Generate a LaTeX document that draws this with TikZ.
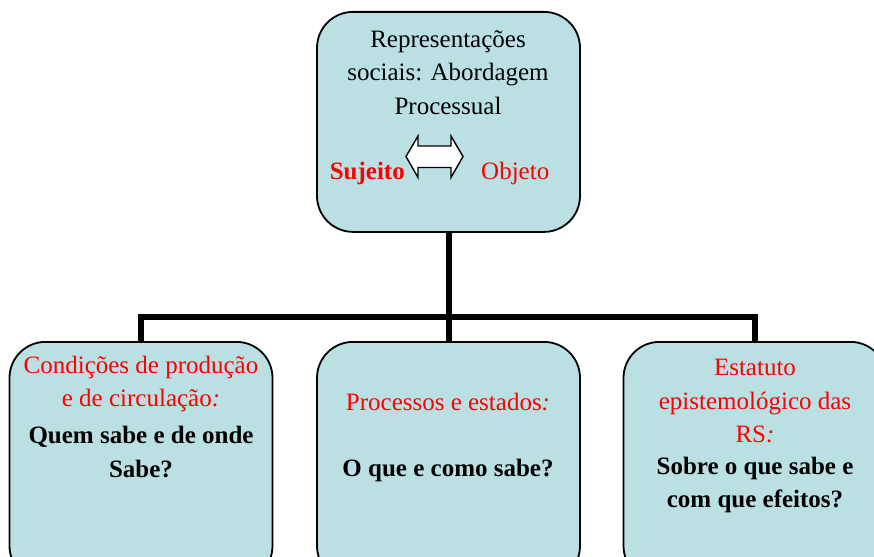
\documentclass[tikz,border=0pt]{standalone}
\usepackage{fontspec}
\setmainfont{Liberation Serif}
\usetikzlibrary{backgrounds}
\definecolor{boxfill}{RGB}{186,224,227}
\definecolor{rsred}{RGB}{255,0,0}
\tikzset{
  box/.style={draw=black, line width=1.8pt, fill=boxfill, rounded corners=36pt,
    minimum width=263pt, minimum height=240pt, inner sep=0pt, anchor=north},
  topbox/.style={box, minimum height=220pt},
  conn/.style={draw=black, line width=6pt, line cap=rect, line join=miter},
  txt/.style={align=center, inner sep=0pt, font=\fontsize{25}{33.5}\selectfont},
  redt/.style={txt, text=rsred},
}
\begin{document}
\begin{tikzpicture}[x=1pt,y=-1pt]
\useasboundingbox (0,0) rectangle (874,556);
\clip (0,0) rectangle (874,556);
% boxes
\node[topbox] (top) at (448.5,11) {};
\node[box] (b1) at (141,341) {};
\node[box] (b2) at (448.5,341) {};
\node[box] (b3) at (755,341) {};
% connectors
\coordinate (bus) at (448.5,317);
\begin{scope}[on background layer]
  \draw[conn] (top.south) -- (b2.north);
  \draw[conn] (b1.north) -- (b1.north |- bus) -- (b3.north |- bus) -- (b3.north);
\end{scope}
% top box text
\node[txt] (title) at (448,72.5) {Representações\\sociais: Abordagem\\Processual};
\node[redt, anchor=east, font=\fontsize{25}{33.5}\selectfont\bfseries] (suj) at (405,173) {Sujeito};
\node[redt, anchor=west] (obj) at (481,173) {Objeto};
\draw[fill=white, line width=1.4pt, line join=miter]
  (406,156.5) -- (418,136) -- (418,146) -- (451,146) -- (451,136) -- (463,156.5)
  -- (451,177.5) -- (451,167.5) -- (418,167.5) -- (418,177.5) -- cycle;
% left box
\node[redt] (t1a) at (141,384) {Condições de produção\\e de circulação\textit{:}};
\node[txt, font=\fontsize{25}{33.5}\selectfont\bfseries] (t1b) at (141,452) {Quem sabe e de onde\\Sabe?};
% middle box
\node[redt] (t2a) at (448,402) {Processos e estados\textit{:}};
\node[txt, font=\fontsize{25}{33.5}\selectfont\bfseries] (t2b) at (448,470) {O que e como sabe?};
% right box
\node[redt] (t3a) at (755,401) {Estatuto\\epistemológico das\\RS\textit{:}};
\node[txt, font=\fontsize{25}{33.5}\selectfont\bfseries] (t3b) at (755,485) {Sobre o que sabe e\\com que efeitos?};
\end{tikzpicture}
\end{document}
